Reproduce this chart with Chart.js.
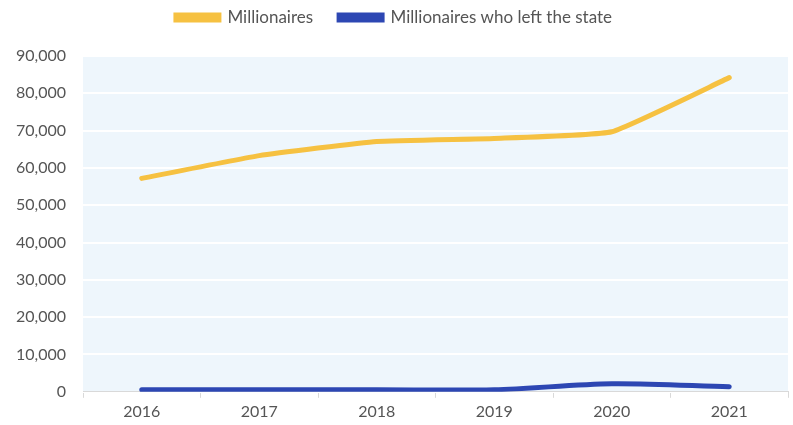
<!DOCTYPE html>
<html>
<head>
<meta charset="utf-8">
<script src="https://cdn.jsdelivr.net/npm/chart.js@4.4.0/dist/chart.umd.min.js"></script>
<style>
  html, body { margin: 0; padding: 0; background: #fff; }
  #wrap { width: 793px; height: 425px; }
</style>
</head>
<body>
<div id="wrap"><canvas id="chart"></canvas></div>
<script>
// Chart data
const years = ['2016', '2017', '2018', '2019', '2020', '2021'];
const millionaires = [57200, 63300, 67100, 67900, 69700, 84200];
const leftState = [550, 550, 550, 550, 2150, 1350];
const yTicks = [0, 10000, 20000, 30000, 40000, 50000, 60000, 70000, 80000, 90000];

const colors = {
    yellow: '#F6C141',
    blue: '#2D47B3',
    plotBg: '#EEF6FC',
    text: '#555555',
    axis: '#D9D9D9'
};

// Fill the plot area before the grid is drawn
const plotBackground = {
    id: 'plotBackground',
    beforeDraw(chart) {
        const { ctx, chartArea: a } = chart;
        ctx.save();
        ctx.fillStyle = colors.plotBg;
        ctx.fillRect(a.left, a.top, a.right - a.left, a.bottom - a.top);
        ctx.restore();
    }
};

// Extra room under the legend
const legendGap = {
    id: 'legendGap',
    beforeInit(chart) {
        const fit = chart.legend.fit;
        chart.legend.fit = function () {
            fit.bind(chart.legend)();
            this.height += 20;
        };
    }
};

const ctx = document.getElementById('chart');

new Chart(ctx, {
    type: 'line',
    data: {
        labels: years,
        datasets: [
            {
                label: 'Millionaires',
                data: millionaires,
                borderColor: colors.yellow,
                backgroundColor: colors.yellow,
                borderWidth: 5,
                borderCapStyle: 'round',
                pointRadius: 0,
                tension: 0.12
            },
            {
                label: 'Millionaires who left the state',
                data: leftState,
                borderColor: colors.blue,
                backgroundColor: colors.blue,
                borderWidth: 5,
                borderCapStyle: 'round',
                pointRadius: 0,
                tension: 0.3
            }
        ]
    },
    options: {
        responsive: true,
        maintainAspectRatio: false,
        animation: false,
        layout: { padding: { top: -17, right: 5, left: 0, bottom: 0 } },
        plugins: {
            legend: {
                position: 'top',
                labels: {
                    boxWidth: 43,
                    boxHeight: 5,
                    padding: 26,
                    color: colors.text,
                    font: { family: 'Lato', size: 17 }
                }
            },
            tooltip: { enabled: false }
        },
        scales: {
            x: {
                offset: true,
                grid: {
                    offset: true,
                    drawOnChartArea: false,
                    drawTicks: true,
                    tickLength: 6,
                    color: colors.axis
                },
                border: { color: colors.axis, width: 1 },
                ticks: {
                    color: colors.text,
                    padding: 4,
                    font: { family: 'Lato', size: 16 }
                }
            },
            y: {
                min: 0,
                max: 90000,
                afterBuildTicks(axis) {
                    axis.ticks = yTicks.map(v => ({ value: v }));
                },
                afterFit(axis) {
                    axis.width = 83;
                },
                grid: {
                    color: '#FFFFFF',
                    lineWidth: 2,
                    drawTicks: false
                },
                border: { display: false },
                ticks: {
                    color: colors.text,
                    padding: 17,
                    font: { family: 'Lato', size: 16 },
                    callback: v => v.toLocaleString('en-US')
                }
            }
        }
    },
    plugins: [plotBackground, legendGap]
});
</script>
</body>
</html>
